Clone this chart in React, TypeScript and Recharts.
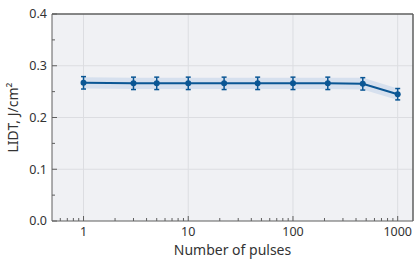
import {
  ComposedChart,
  Area,
  Line,
  ErrorBar,
  XAxis,
  YAxis,
  CartesianGrid,
  ReferenceLine,
} from "recharts";

const pulses = [1, 3, 5, 10, 22, 46, 100, 215, 464, 1000];
const lidt = [0.267, 0.266, 0.266, 0.266, 0.266, 0.266, 0.266, 0.266, 0.265, 0.245];
const lidtErr = [0.012, 0.012, 0.012, 0.012, 0.012, 0.012, 0.012, 0.012, 0.012, 0.011];
const bandHigh = [0.278, 0.277, 0.277, 0.277, 0.277, 0.277, 0.277, 0.277, 0.277, 0.256];
const bandLow = [0.256, 0.255, 0.255, 0.255, 0.255, 0.255, 0.255, 0.255, 0.254, 0.234];

const xMajor = [1, 10, 100, 1000];
const xTicks = [
  0.6, 0.7, 0.8, 0.9, 1, 2, 3, 4, 5, 6, 7, 8, 9, 10, 20, 30, 40, 50, 60, 70, 80, 90,
  100, 200, 300, 400, 500, 600, 700, 800, 900, 1000,
];
const yMajor = [0, 0.1, 0.2, 0.3, 0.4];
const yTicks = [0, 0.05, 0.1, 0.15, 0.2, 0.25, 0.3, 0.35, 0.4];

const data = pulses.map((p, i) => ({
  pulses: p,
  lidt: lidt[i],
  err: lidtErr[i],
  band: [bandLow[i], bandHigh[i]],
}));

const FONT = "'Noto Sans', sans-serif";
const BLUE = "#0a5694";
const AXIS = "#5f5f5f";
const TEXT = "#333";

function XTick(props: any) {
  const { x, y, payload } = props;
  const major = xMajor.includes(payload.value);
  return (
    <g>
      <line x1={x} x2={x} y1={y} y2={y - (major ? 5 : 3)} stroke={AXIS} strokeWidth={1} />
      {major && (
        <text x={x} y={y + 15} textAnchor="middle" fontSize={12.5} fill={TEXT} fontFamily={FONT}>
          {payload.value}
        </text>
      )}
    </g>
  );
}

function YTick(props: any) {
  const { x, y, payload } = props;
  const major = yMajor.some((v) => Math.abs(v - payload.value) < 1e-9);
  return (
    <g>
      <line x1={x} x2={x + (major ? 5 : 3)} y1={y} y2={y} stroke={AXIS} strokeWidth={1} />
      {major && (
        <text x={x - 5} y={y} dy="0.35em" textAnchor="end" fontSize={12.5} fill={TEXT} fontFamily={FONT}>
          {payload.value.toFixed(1)}
        </text>
      )}
    </g>
  );
}

function YLabel(props: any) {
  const { viewBox } = props;
  const cx = viewBox.x + 17.5;
  const cy = viewBox.y + viewBox.height / 2;
  return (
    <text
      x={cx}
      y={cy}
      transform={`rotate(-90, ${cx}, ${cy})`}
      textAnchor="middle"
      fontSize={14}
      fill={TEXT}
      fontFamily={FONT}
    >
      LIDT, J/cm²
    </text>
  );
}

export default function App() {
  return (
    <div style={{ position: "absolute", left: 0, top: 0, width: 414, height: 264, background: "#fff" }}>
      <ComposedChart width={414} height={264} data={data} margin={{ top: 14, right: 1, bottom: 0, left: 0 }}>
        <CartesianGrid
          fill="#f0f1f4"
          stroke="#dcdde1"
          verticalValues={xMajor}
          horizontalValues={[0.1, 0.2, 0.3]}
        />
        <XAxis
          dataKey="pulses"
          type="number"
          scale="log"
          domain={[0.5, 1400]}
          allowDataOverflow
          ticks={xTicks}
          interval={0}
          tick={<XTick />}
          tickSize={0}
          tickMargin={0}
          tickLine={false}
          height={43}
          stroke={AXIS}
          label={{
            value: "Number of pulses",
            position: "insideBottom",
            offset: 9,
            fontSize: 14,
            fill: TEXT,
            fontFamily: FONT,
          }}
        />
        <YAxis
          type="number"
          domain={[0, 0.4]}
          ticks={yTicks}
          interval={0}
          tick={<YTick />}
          tickSize={0}
          tickMargin={0}
          tickLine={false}
          width={52}
          stroke={AXIS}
          label={<YLabel />}
        />
        <ReferenceLine y={0.4} stroke={AXIS} strokeWidth={1.5} />
        <ReferenceLine x={1400} stroke={AXIS} strokeWidth={1.5} />
        <Area
          dataKey="band"
          type="linear"
          fill="#d6e0ee"
          fillOpacity={1}
          stroke="none"
          isAnimationActive={false}
        />
        <Line
          dataKey="lidt"
          type="linear"
          stroke={BLUE}
          strokeWidth={2}
          dot={{ r: 3, fill: BLUE, stroke: BLUE, strokeWidth: 0 }}
          isAnimationActive={false}
        >
          <ErrorBar dataKey="err" direction="y" width={2.5} stroke={BLUE} strokeWidth={1.5} />
        </Line>
      </ComposedChart>
    </div>
  );
}
